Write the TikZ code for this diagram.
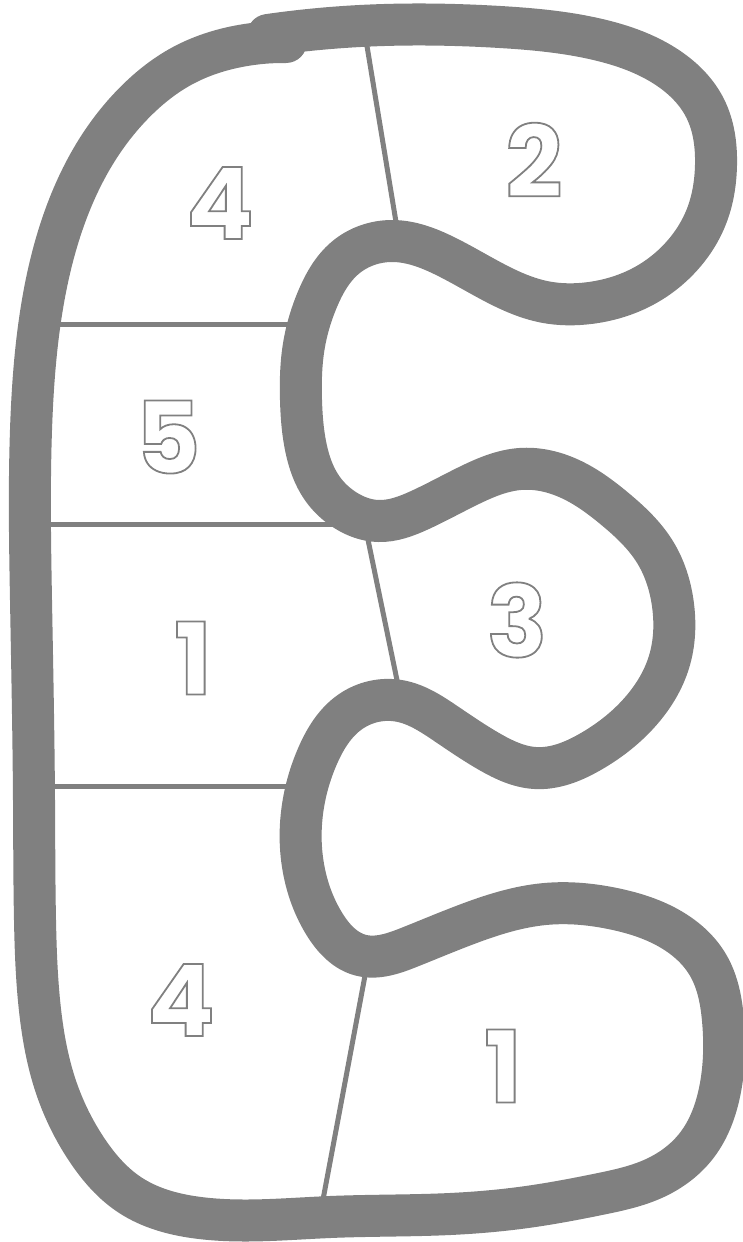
\documentclass[tikz,border=0pt]{standalone}
\usepackage{fontspec}
\setmainfont{Poppins}
\usetikzlibrary{positioning,hobby}
\definecolor{linegray}{HTML}{808080}
\tikzset{
  rim/.style={draw=linegray,line width=42pt,line cap=round,line join=round},
  cut/.style={draw=linegray,line width=5pt},
  num/.style={inner sep=0pt,text=linegray,font=\fontsize{100}{100}\selectfont\bfseries},
}
% digits drawn as outlines only
\newcommand{\hollow}[1]{\special{pdf:literal direct 1 Tr 1.8 w}#1\special{pdf:literal direct 0 Tr}}

\begin{document}
\begin{tikzpicture}[x=1pt,y=-1pt]
  \useasboundingbox (0,0) rectangle (743,1242);
  % thin lines between the fields
  \draw[cut] (366,40) -- (397,228);
  \draw[cut] (50,324) -- (295,324);
  \draw[cut] (50,524) -- (335,524);
  \draw[cut] (366,530) -- (398,685);
  \draw[cut] (55,786) -- (292,786);
  \draw[cut] (367,965) -- (322,1205);
  % the thick rim
  \draw[rim,use Hobby shortcut] (268,35) .. (360,26) .. (500,27) .. (600,40)
    .. (665,66) .. (705,108) .. (716,165) .. (707,215) .. (680,258) .. (640,288)
    .. (590,303) .. (545,302) .. (495,283) .. (445,256) .. (392,241) .. (345,258)
    .. (318,298) .. (304,345) .. (301,400) .. (306,448) .. (322,488) .. (345,510)
    .. (378,521) .. (420,510) .. (470,485) .. (520,469) .. (568,478) .. (615,509)
    .. (655,552) .. (673,605) .. (669,662) .. (640,712) .. (590,752) .. (535,768)
    .. (490,752) .. (445,723) .. (400,701) .. (350,712) .. (318,755) .. (302,813)
    .. (306,880) .. (325,925) .. (360,955) .. (410,947) .. (465,925) .. (545,904)
    .. (615,909) .. (672,930) .. (708,965) .. (723,1020) .. (720,1090) .. (697,1145)
    .. (655,1178) .. (600,1194) .. (527,1207) .. (450,1214) .. (330,1217)
    .. (200,1218) .. (130,1195) .. (87,1150) .. (56,1087) .. (40,1010) .. (35,920)
    .. (34,800) .. (31,600) .. (31,430) .. (40,320) .. (62,225) .. (97,150)
    .. (137,100) .. (182,66) .. (240,46) .. (286,42);
  % numbers
  \node[num] (topfour) at (220,203) {\hollow{4}};
  \node[num] (two) at (534,160) {\hollow{2}};
  \node[num] (five) at (168,437) {\hollow{5}};
  \node[num] (midone) at (193,658) {\hollow{1}};
  \node[num] (three) at (517,620) {\hollow{3}};
  \node[num] (lowfour) at (181,1000) {\hollow{4}};
  \node[num] (lowone) at (503,1066) {\hollow{1}};
\end{tikzpicture}
\end{document}
